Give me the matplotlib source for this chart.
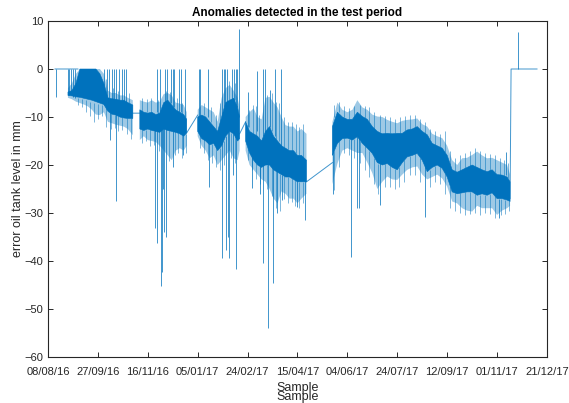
import numpy as np
import matplotlib
matplotlib.use("Agg")
import matplotlib.pyplot as plt
import matplotlib.dates as mdates
import datetime as dt

plt.rcParams['font.family'] = ['Liberation Sans', 'DejaVu Sans']

nan = np.nan
# ---------------- data (days after 08/08/16) ----------------
title = "Anomalies detected in the test period"
ylabel = "error oil tank level in mm"
xlabel = "Sample"
tick_labels = ["08/08/16", "27/09/16", "16/11/16", "05/01/17", "24/02/17", "15/04/17",
               "04/06/17", "24/07/17", "12/09/17", "01/11/17", "21/12/17"]
y_ticks = [-60, -50, -40, -30, -20, -10, 0, 10]

band_days = [20, 24, 28, 32, 36, 40, 44, 48, 52, 56, 60, 64, 68, 72, 76, 80, 85, nan,
             92, 96, 100, 104, 108, 112, 116, 120, 124, 128, 132, 136, 139, nan,
             150, 154, 158, 162, 166, 170, 174, 178, 182, 186, 190, 192, nan,
             198, 202, 206, 210, 214, 218, 222, 226, 230, 234, 238, 242, 246, 250, 254, 259, nan,
             285, 290, 295, 300, 305, 310, 315, 320, 325, 330, 335, 340, 345, 350, 355, 360,
             365, 370, 375, 380, 385, 390, 395, 400, 405, 410, 415, 420, 425, 430, 435, 440,
             445, 450, 455, 460, 463]
fringe_hi = [-4, -3, -1, 0, 0, 0, 0, 0, 0, -1, -4.5, -5, -5, -5.5, -5.5, -6, -6.5, nan,
             -6.5, -6.8, -7, -6.5, -7, -6.8, -5.2, -5, -5.5, -7, -7.2, -7.5, -9, nan,
             -8.5, -7.5, -8, -8.5, -9, -11, -6, -4, -3.3, -4.5, -6, -8, nan,
             -10, -9, -8.2, -10, -10.5, -6, -5.8, -7, -8, -10, -11.7, -12, -12, -13, -12.5, -13.5, nan,
             -11, -7, -8.5, -9, -8.5, -6.5, -8, -8.5, -9.5, -9.9, -10, -10.6, -11, -11.3, -10.8, -10.6,
             -10.5, -10.3, -11.5, -12, -13.5, -14, -14.4, -16, -19, -20, -18.6, -18.5, -17.9, -17.2, -18, -18.6,
             -18.5, -19, -19.5, -20, -22]
core_hi = [-4.8, -4.5, -3, 0, 0, 0, 0, 0, -1, -3, -6, -6.2, -6.3, -6.5, -6.5, -7, -7.5, nan,
           -8.5, -9, -9.2, -9, -9.5, -9.2, -7, -6.5, -7.5, -8.5, -9, -9.5, -10.5, nan,
           -10, -9.6, -10, -11, -12, -13, -10, -7, -6.5, -6.1, -8, -10, nan,
           -11, -13, -13.5, -14, -15, -13, -12, -14, -15, -16, -16.5, -17, -17, -18, -18, -19, nan,
           -12, -9, -10, -10.5, -10.5, -9, -9.9, -10.5, -12, -13, -13.5, -13.4, -13.5, -13.4, -13.4, -12.7,
           -12.5, -12, -13, -13.7, -15.5, -16, -16.5, -18, -21, -21.5, -21, -20.5, -20, -20.5, -21, -21.4,
           -21, -22, -22.1, -22.5, -23.5]
core_lo = [-5.5, -5.6, -5.8, -5.9, -6.1, -6.3, -6.5, -6.8, -7.1, -7.4, -8.8, -9.4, -9.6, -10, -10.2, -10.3, -10.3, nan,
           -12.5, -12.8, -12.5, -12.8, -13, -13.2, -12.5, -12.8, -13, -13.2, -13.5, -14, -13.3, nan,
           -13, -14.5, -15, -15.8, -15.5, -17, -16, -14, -13, -13.5, -15, -14.5, nan,
           -15, -17.5, -19, -20, -20.5, -20, -20, -21, -21.5, -22, -22.5, -22.5, -23, -23.5, -23.5, -23.5, nan,
           -18, -15.5, -14.5, -14.4, -14.8, -14.1, -15.5, -16.5, -17.6, -19.5, -20, -19.7, -20.5, -21, -19.5, -18.3,
           -18, -17.6, -19, -21.4, -20.5, -20, -20.7, -22.5, -25.6, -26, -25.8, -25.6, -25.6, -26.3, -26, -26.3,
           -25.8, -27, -27, -27.3, -27.6]
fringe_lo = [-6, -6.3, -6.8, -7.1, -7.4, -7.8, -8.5, -9.5, -9.6, -9, -11, -11.3, -11.6, -11.8, -12, -12.5, -13.8, nan,
             -14.8, -14, -14.8, -15, -15.2, -16, -17, -18, -19, -17, -16.5, -17, -16, nan,
             -14, -16, -17, -18.6, -18, -20, -19, -18, -17, -18.6, -19, -17, nan,
             -17, -20, -21, -22, -23, -23.5, -25, -27, -28, -25.5, -26, -27, -27, -28, -27, -26, nan,
             -24, -19.7, -17, -16.5, -17, -17.5, -17.5, -19.5, -21.7, -25, -23.5, -22.4, -23, -23.1, -22, -21,
             -20.5, -20.3, -22, -23, -22.5, -22, -22.8, -24.5, -27.6, -28, -29, -29.5, -29.7, -28.5, -29, -29,
             -29, -30.4, -29.5, -29, -28.5]

# straight connecting pieces of the series (gaps in sampling)
link_days = [7, 30, nan, 85, 92, nan, 139, 150, nan, 192, 198, nan, 259, 285, nan, 463, 464, 490]
link_vals = [0, 0, nan, -9.2, -9.2, nan, -13.3, -9.6, nan, -13.5, -11, nan, -23.5, -19.5, nan, -27, 0, 0]

# isolated spikes: day, top value, bottom value
spike_days = [8, 20, 21.5, 23, 25, 27, 56, 59, 61, 64, 66, 68, 71, 74, 76, 78, 62, 68,
              109, 112, 117, 119, 123, 125, 126, 131, 133, 137,
              107, 109, 113, 114, 115, 116, 118, 125, 135,
              151, 152, 160, 174, 176, 177, 179, 184, 186, 188, 189, 191,
              161, 174, 178, 180, 181, 185, 188,
              200, 209, 215, 217, 222, 227, 233,
              204, 212, 215, 220, 225, 229, 234, 249, 258,
              286, 304, 310, 312, 333, 378, 452, 459, 471]
spike_tops = [0, 0, 0, 0, 0, 0, 0, 0, 0, 0, 0, 0, 0, 0, 0, 0, -9, -9,
              0, 0, 0, 0, 0, 0, 0, 0, 0, 0,
              -12, -12, -12, -12, -12, -12, -12, -12, -13,
              0, 0, 0, 0, 0, 0, 0, 0, 0, 0, 0, 8.3,
              -14, -15, -14, -13, -13, -13, -14,
              -4.8, -0.5, 0, 0, -4.4, 0, 0,
              -17, -19, -19, -19, -20, -21, -22, -22, -22,
              -17, -14, -14, -14, -19, -19, -27, -17.2, 7.7]
spike_bottoms = [-5.8, -5.5, -5.5, -5.5, -5.8, -6, -7.4, -7.5, -8, -8, -8, -8, -8.5, -8.5, -8.5, -8.5, -14.8, -27.4,
                 -9, -9, -7, -7, -7, -8, -8, -9, -9, -10,
                 -33.2, -36.3, -45.3, -42.2, -25, -34, -35, -20.5, -18,
                 -10, -10, -10, -10, -8, -8, -7, -7, -7, -8, -8, -10,
                 -24.5, -39.4, -37.7, -34.9, -39.4, -22, -41.7,
                 -12, -13, -14, -14, -12, -14, -16,
                 -24.8, -26, -40.5, -54, -44.6, -30, -27.3, -28.7, -31.5,
                 -26, -39.1, -29, -29, -28.3, -30.8, -31, -22, 0]

# short noise excursions at the band edges: day, from value, to value
hair_days = [30, 34, 38, 42, 46, 50, 54, 58, 63, 67, 70, 74, 79, 83, 58, 65, 70, 81,
             94, 98, 102, 106, 111, 121, 127, 130, 134, 138, 94, 99, 103, 110, 118, 122, 129, 134,
             152, 156, 160, 164, 168, 172, 176, 183, 187, 156, 163, 168, 172, 181, 187,
             200, 204, 208, 212, 219, 224, 228, 232, 236, 240, 244, 247, 252, 256,
             201, 205, 208, 211, 219, 224, 228, 231, 236, 240, 244, 248, 252, 256,
             287, 292, 297, 302, 307, 313, 318, 322, 327, 331, 338, 343, 348, 352, 357, 363,
             368, 373, 383, 388, 393, 398, 403, 408, 413, 418, 423, 428, 433, 438, 443, 448,
             454, 458, 462,
             287, 292, 297, 302, 307, 313, 318, 322, 327, 333, 338, 343, 348, 353, 358, 363,
             368, 373, 378, 383, 388, 393, 398, 403, 408, 413, 418, 423, 428, 433, 438, 443,
             448, 453, 457, 461]
hair_from = [-6, -6.2, -6.5, -6.8, -7, -7.2, -7.4, -8, -9, -9.5, -9.8, -10, -10.2, -10.3, -6, -6.2, -6.4, -7,
             -12.5, -12.8, -12.6, -13, -13, -12.8, -13, -13.3, -13.8, -13.5, -9, -9, -9, -9.3, -7, -7, -8.5, -9.3,
             -13.5, -14.5, -15.3, -15.7, -16, -16.5, -15, -13.3, -14, -9.6, -11, -12.5, -11.5, -6.5, -6.5,
             -16, -18, -19.5, -20.2, -20, -20.5, -21.2, -21.8, -22.2, -22.5, -22.7, -23, -23.5, -23.5,
             -12, -13.3, -13.8, -14.3, -12.7, -13, -14.5, -15, -16.2, -16.7, -17, -17.5, -18, -18.5,
             -17, -15, -14.4, -14.6, -14.5, -15, -16, -17, -18.5, -19.7, -19.8, -20, -20.8, -20.5, -19, -18.2,
             -17.8, -18.5, -21, -20.2, -20.4, -21.8, -24.5, -25.8, -25.9, -25.7, -25.6, -26, -26.2, -26.2, -26, -26.5,
             -27, -27.2, -27.5,
             -10, -9, -10, -10.5, -10.2, -9.5, -10.2, -11, -12.5, -13.2, -13.5, -13.4, -13.4, -13.4, -13, -12.6,
             -12.2, -12.5, -13.5, -14.5, -15.8, -16.2, -17.3, -20, -21.3, -21.2, -20.8, -20.2, -20.2, -20.8, -21.2, -21.2,
             -21.5, -22, -22.3, -22.8]
hair_to = [-7.5, -8, -9, -9.8, -11, -10.5, -9.8, -12, -12.5, -12.2, -13, -12.8, -13.5, -14.5, -2, -4, -4.5, -5,
           -15.5, -15, -16, -15.8, -17, -19.2, -18, -17.5, -18.5, -17.5, -6, -6.2, -6, -6.5, -4.5, -4.8, -6, -7,
           -16.5, -17.5, -19, -19.5, -20.5, -21, -20, -18.5, -19.5, -7, -8, -9.5, -7, -2.5, -3,
           -19, -21, -23, -24, -25, -26.5, -29, -29.5, -27, -28, -27.8, -28.5, -29, -28,
           -8.5, -7.5, -7.8, -9.5, -5.5, -5, -6.8, -7, -10, -11, -11, -11.5, -12, -11.5,
           -25.2, -20.5, -17.5, -18, -18.5, -19.5, -21, -22.5, -24, -26, -24.5, -24.5, -25, -24.5, -23.5, -22,
           -22, -23.5, -24.5, -23.5, -24, -26, -29, -29.5, -30, -30.5, -30.3, -30, -30.5, -30, -30.2, -31,
           -30.5, -30.3, -29.5,
           -7.5, -6.8, -7.8, -8.2, -7.8, -7.5, -7.8, -8, -9, -9.5, -9.8, -10, -10.5, -10, -9.8, -9.5,
           -9.5, -10.5, -11, -12.5, -13, -13.5, -13, -17, -18.5, -18, -17.5, -17, -16.5, -17, -17.5, -17.8,
           -18, -18.5, -19, -19.5]

# ---------------- drawing ----------------
blue = "#0072BD"
base = mdates.date2num(dt.datetime(2016, 8, 8))

def to_x(days):
    return base + np.asarray(days, dtype=float)

fig = plt.figure(figsize=(5.69, 4.03), dpi=100)
ax = fig.add_axes([48 / 569, 46 / 403, 499 / 569, 336 / 403])

bx = to_x(band_days)
ax.fill_between(bx, np.asarray(fringe_lo, float), np.asarray(fringe_hi, float),
                color=blue, alpha=0.38, linewidth=0)
ax.fill_between(bx, np.asarray(core_lo, float), np.asarray(core_hi, float),
                color=blue, alpha=1.0, linewidth=0.4, edgecolor=blue)
ax.vlines(to_x(hair_days), hair_from, hair_to, color=blue, lw=0.6, alpha=0.6)
ax.plot(to_x(link_days), link_vals, color=blue, lw=0.7, alpha=0.75)
ax.vlines(to_x(spike_days), spike_bottoms, spike_tops, color=blue, lw=0.7, alpha=0.75)

ax.set_xlim(base, base + 500)
ax.set_ylim(-60, 10)
ax.set_xticks([base + 50 * i for i in range(len(tick_labels))])
ax.set_xticklabels(tick_labels)
ax.set_yticks(y_ticks)

for s in ax.spines.values():
    s.set_color("#262626")
    s.set_linewidth(0.8)
ax.tick_params(axis='both', direction='in', top=True, right=True, length=3.6, width=0.7,
               labelsize=8, colors="#262626")
ax.tick_params(axis='x', pad=7)
ax.tick_params(axis='y', pad=3.6)

ax.set_title(title, fontsize=8.5, fontweight='bold', pad=3.5, color='black')
fig.text(297.5 / 569, 1 - 388 / 403, xlabel, ha='center', va='center', fontsize=9, color="#262626")
fig.text(297.5 / 569, 1 - 397 / 403, xlabel, ha='center', va='center', fontsize=9, color="#262626")
fig.text(18 / 569, 1 - 189 / 403, ylabel, ha='center', va='center', rotation=90, fontsize=9,
         color="#262626")

fig.savefig("out.png", dpi=100)
